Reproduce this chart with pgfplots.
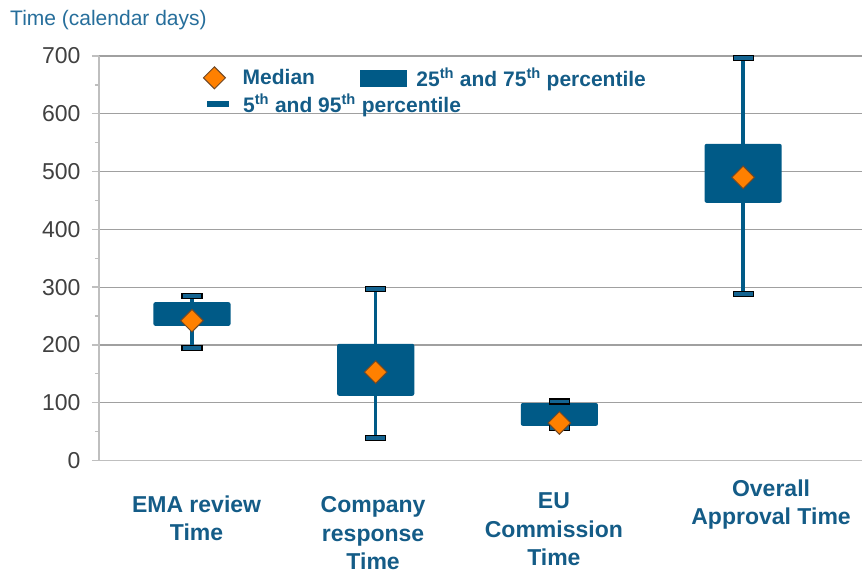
\documentclass[border=0pt]{standalone}
\usepackage{pgfplots}
\pgfplotsset{compat=1.18}
\usepackage{fontspec}
\setmainfont{Liberation Sans}
\definecolor{boxblue}{RGB}{0,90,135}
\definecolor{capblue}{RGB}{20,100,145}
\definecolor{labelblue}{RGB}{20,92,135}
\definecolor{titleblue}{RGB}{38,110,155}
\definecolor{tickgray}{RGB}{64,64,64}
\definecolor{gridgray}{RGB}{160,160,160}
\definecolor{axisgray}{RGB}{191,191,191}
\definecolor{medorange}{RGB}{255,128,0}
\definecolor{meddraw}{RGB}{110,72,40}
\pgfdeclareplotmark{cap}{%
  \pgfpathrectangle{\pgfqpoint{-10pt}{-2.5pt}}{\pgfqpoint{20pt}{5pt}}%
  \pgfusepathqfillstroke}
\tikzset{catlbl/.style={align=center, font=\bfseries\fontsize{23}{28.5}\selectfont, text=labelblue, inner sep=0pt}}
\begin{document}
\begin{tikzpicture}
\begin{axis}[
  name=ax, scale only axis, width=763pt, height=404.5pt,
  xmin=-0.506, xmax=3.647, ymin=0, ymax=700,
  axis x line*=bottom, axis y line*=left,
  xtick=\empty, ytick={0,100,...,700}, minor y tick num=1,
  tick align=outside, major tick length=7pt, minor tick length=4pt,
  every tick/.style={color=axisgray, line width=1.3pt},
  axis line style={color=axisgray, line width=1.5pt},
  ymajorgrids, major grid style={color=gridgray, line width=1.2pt},
  yticklabel style={font=\fontsize{23}{27}\selectfont, text=tickgray, xshift=-8pt},
  /pgf/number format/assume math mode=true,
  clip=false,
  legend columns=2,
  legend cell align=left,
  legend style={draw=none, fill=none, at={(0.136,0.975)}, anchor=north west,
    inner sep=0pt, font=\bfseries\fontsize{21}{25}\selectfont,
    nodes={inner sep=0pt, text=labelblue},
    /tikz/column 1/.style={column sep=14pt},
    /tikz/column 2/.style={column sep=45pt},
    /tikz/column 3/.style={column sep=10pt},
    row sep=5pt},
]
% whisker lines (5th to 95th percentile)
\addplot[boxblue, line width=3.5pt, forget plot] coordinates {(0,195) (0,285)};
\addplot[boxblue, line width=3.5pt, forget plot] coordinates {(1,39) (1,297)};
\addplot[boxblue, line width=3.5pt, forget plot] coordinates {(2,56) (2,102)};
\addplot[boxblue, line width=3.5pt, forget plot] coordinates {(3,288) (3,697)};
% boxes (25th to 75th percentile)
\addplot[fill=boxblue, draw=none, rounded corners=2pt, forget plot] coordinates {(-0.21,233) (0.21,233) (0.21,274) (-0.21,274)} -- cycle;
\addplot[fill=boxblue, draw=none, rounded corners=2pt, forget plot] coordinates {(0.79,112) (1.21,112) (1.21,202) (0.79,202)} -- cycle;
\addplot[fill=boxblue, draw=none, rounded corners=2pt, forget plot] coordinates {(1.79,60) (2.21,60) (2.21,99.5) (1.79,99.5)} -- cycle;
\addplot[fill=boxblue, draw=none, rounded corners=2pt, forget plot] coordinates {(2.79,446) (3.21,446) (3.21,548) (2.79,548)} -- cycle;
% whisker caps
\addplot[only marks, mark=cap, mark options={fill=capblue, draw=black, line width=1.2pt}, forget plot]
  coordinates {(0,195) (0,285) (1,39) (1,297) (2,56) (2,102) (3,288) (3,697)};
% medians
\addplot[only marks, mark=square*, mark size=8pt, mark options={rotate=45, fill=medorange, draw=meddraw, line width=1pt}, forget plot]
  coordinates {(0,242) (1,153) (2,65) (3,490)};
% legend
\addlegendimage{legend image code/.code={\filldraw[fill=medorange, draw=meddraw, line width=1pt] (0pt,0pt) -- (11pt,11pt) -- (22pt,0pt) -- (11pt,-11pt) -- cycle; \path (25pt,0pt);}}
\addlegendentry{Median}
\addlegendimage{legend image code/.code={\fill[boxblue] (0pt,-8pt) rectangle (46pt,8pt);}}
\addlegendentry{25\textsuperscript{th} and 75\textsuperscript{th} percentile}
\addlegendimage{legend image code/.code={\path (0pt,0pt); \fill[boxblue] (4pt,-2.5pt) rectangle (25pt,2.5pt);}}
\addlegendentry{\makebox[0pt][l]{5\textsuperscript{th} and 95\textsuperscript{th} percentile}}
% category labels
\node[catlbl] at (axis cs:0.025,-100) {EMA review\\Time};
\node[catlbl] at (axis cs:0.986,-126) {Company\\response\\Time};
\node[catlbl] at (axis cs:1.97,-119) {EU\\Commission\\Time};
\node[catlbl] at (axis cs:3.152,-76) {Overall\\Approval Time};
% title
\node[anchor=base west, inner sep=0pt, font=\fontsize{21}{25}\selectfont, text=titleblue] at ([xshift=-89pt,yshift=30pt]rel axis cs:0,1) {Time (calendar days)};
\end{axis}
\pgfresetboundingbox
\path[use as bounding box] ([xshift=-99pt,yshift=-114.5pt]ax.south west) rectangle ([xshift=5pt,yshift=56pt]ax.north east);
\end{tikzpicture}
\end{document}
